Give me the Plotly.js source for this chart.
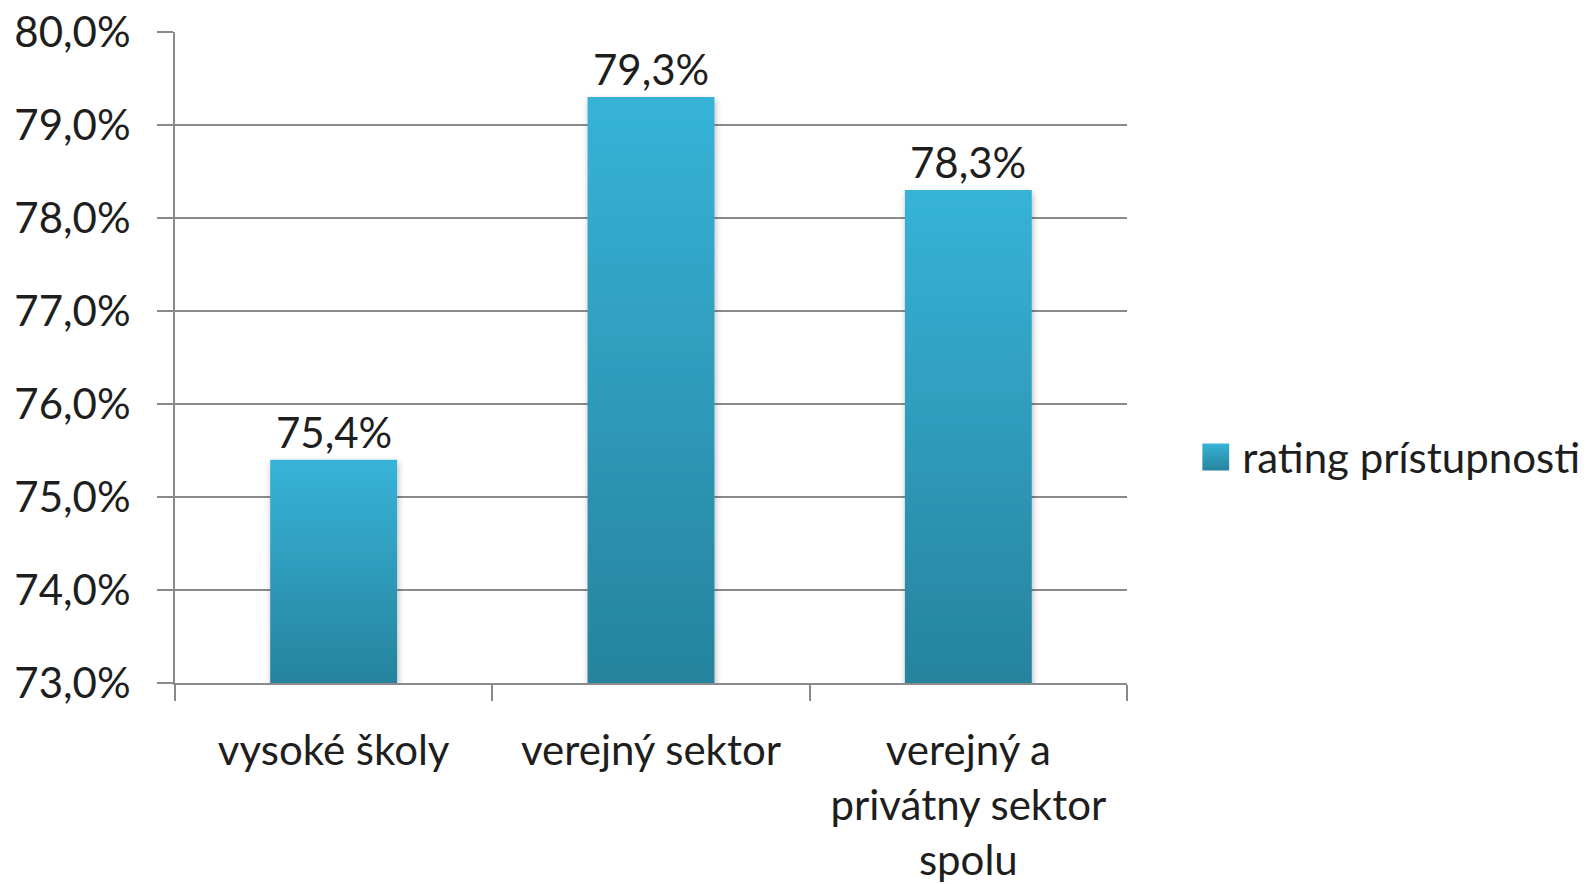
<!DOCTYPE html>
<html>
<head>
<meta charset="utf-8">
<script src="https://cdn.plot.ly/plotly-3.0.1.min.js"></script>
<style>
html,body{margin:0;padding:0;background:#fff;}
#chart{width:1589px;height:884px;}
</style>
</head>
<body>
<div id="chart"></div>
<script>
const categories = ["vysoké školy", "verejný sektor", "verejný a<br>privátny sektor<br>spolu"];
const values = [75.4, 79.3, 78.3];
const seriesName = "rating prístupnosti";
const yTicks = [73, 74, 75, 76, 77, 78, 79, 80];

const FONT = "Lato, 'Open Sans', sans-serif";
const FS = 42;
const TXT = "#1e1e1e";
const GRID = "#8a8a8a";
const TOP_C = '#37b3d8', BOT_C = '#26839d';

const labels = values.map(v => v.toFixed(1).replace('.', ',') + '%');

const trace = {
  type: 'bar',
  x: categories,
  y: values,
  name: seriesName,
  showlegend: true,
  marker: {color: '#2f9fc0', line: {width: 0}},
  hoverinfo: 'none'
};

const annotations = categories.map((c, i) => ({
  x: c, y: values[i], xref: 'x', yref: 'y',
  text: labels[i], showarrow: false,
  yanchor: 'bottom', yshift: 1,
  font: {family: FONT, size: FS, color: TXT}
}));

const layout = {
  width: 1589, height: 884,
  margin: {l: 175, r: 462, t: 32, b: 201, pad: 0, autoexpand: false},
  paper_bgcolor: '#fff', plot_bgcolor: '#fff',
  separators: ',.',
  bargap: 0.6,
  font: {family: FONT, size: FS, color: TXT},
  xaxis: {
    type: 'category',
    showline: true, linecolor: GRID, linewidth: 2,
    ticks: 'outside', tickson: 'boundaries', ticklen: 16, tickcolor: GRID, tickwidth: 2,
    showgrid: false,
    tickfont: {family: FONT, size: FS, color: TXT},
    ticklabelstandoff: 30
  },
  yaxis: {
    range: [73, 80], tickvals: yTicks,
    ticktext: yTicks.map(t => t.toFixed(1).replace('.', ',') + '%'),
    showline: true, linecolor: GRID, linewidth: 2,
    ticks: 'outside', ticklen: 16, tickcolor: GRID, tickwidth: 2,
    showgrid: true, gridcolor: GRID, gridwidth: 2,
    zeroline: false,
    tickfont: {family: FONT, size: FS, color: TXT},
    ticklabelstandoff: 18
  },
  legend: {
    x: 1.079, y: 0.347, xanchor: 'left', yanchor: 'middle',
    font: {family: FONT, size: FS, color: TXT},
    bgcolor: 'rgba(0,0,0,0)', itemwidth: 30
  },
  annotations: annotations,
  showlegend: true
};

const NS = 'http://www.w3.org/2000/svg';
function makeGrad(defs, id, attrs) {
  let g = document.getElementById(id);
  if (g) g.remove();
  g = document.createElementNS(NS, 'linearGradient');
  g.setAttribute('id', id);
  Object.keys(attrs).forEach(k => g.setAttribute(k, attrs[k]));
  [['0', TOP_C], ['1', BOT_C]].forEach(([o, c]) => {
    const s = document.createElementNS(NS, 'stop');
    s.setAttribute('offset', o); s.setAttribute('stop-color', c);
    g.appendChild(s);
  });
  defs.appendChild(g);
}

function applyStyle(gd) {
  const svg = gd.querySelector('svg.main-svg');
  if (!svg || !gd._fullLayout) return;
  let defs = svg.querySelector('defs');
  if (!defs) { defs = document.createElementNS(NS, 'defs'); svg.insertBefore(defs, svg.firstChild); }
  makeGrad(defs, 'legGrad', {x1: '0', y1: '0', x2: '0', y2: '1'});
  if (!document.getElementById('barShadow')) {
    const filt = document.createElementNS(NS, 'filter');
    filt.setAttribute('id', 'barShadow');
    filt.setAttribute('filterUnits', 'userSpaceOnUse');
    filt.setAttribute('x', '-50'); filt.setAttribute('y', '-50');
    filt.setAttribute('width', '1200'); filt.setAttribute('height', '800');
    const ds = document.createElementNS(NS, 'feDropShadow');
    ds.setAttribute('dx', '1'); ds.setAttribute('dy', '3');
    ds.setAttribute('stdDeviation', '3'); ds.setAttribute('flood-color', '#000');
    ds.setAttribute('flood-opacity', '0.28');
    filt.appendChild(ds);
    defs.appendChild(filt);
  }
  const plotH = gd._fullLayout.yaxis._length;
  gd.querySelectorAll('.barlayer path').forEach((p, i) => {
    const bb = p.getBBox();
    const id = 'barGrad' + i;
    makeGrad(defs, id, {gradientUnits: 'userSpaceOnUse', x1: String(bb.x), y1: String(bb.y), x2: String(bb.x), y2: String(plotH)});
    p.setAttribute('fill', 'url(#' + id + ')');
    p.style.setProperty('fill', 'url(#' + id + ')', 'important');
  });
  gd.querySelectorAll('.barlayer g.points').forEach(g => {
    g.setAttribute('filter', 'url(#barShadow)');
  });
  gd.querySelectorAll('.legend .legendpoints path').forEach(p => {
    p.setAttribute('d', 'M7,13.5H-20V-13.5H7Z');
    p.style.setProperty('fill', 'url(#legGrad)', 'important');
    p.style.setProperty('stroke-width', '0', 'important');
  });
}

const gdEl = document.getElementById('chart');
const pr = Plotly.newPlot(gdEl, [trace], layout, {staticPlot: true, displayModeBar: false});
applyStyle(gdEl);
pr.then(gd => { applyStyle(gd); });
</script>
</body>
</html>
